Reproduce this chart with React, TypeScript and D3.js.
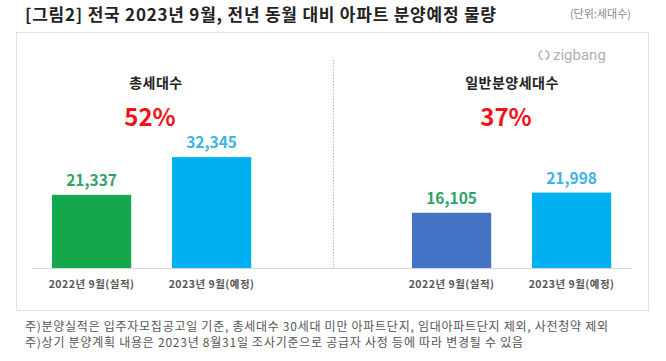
import { useEffect, useRef } from 'react';
import * as d3 from 'd3';

// Chart data
const periods = ['2022년 9월(실적)', '2023년 9월(예정)'];
const totalUnits = [21337, 32345];
const generalUnits = [16105, 21998];
const panelTitles = ['총세대수', '일반분양세대수'];
const changeLabels = ['52%', '37%'];
const footnotes = [
  '주)분양실적은 입주자모집공고일 기준, 총세대수 30세대 미만 아파트단지, 임대아파트단지 제외, 사전청약 제외',
  '주)상기 분양계획 내용은 2023년 8월31일 조사기준으로 공급자 사정 등에 따라 변경될 수 있음',
];

const FONT = '"Noto Sans CJK KR", "Noto Sans", sans-serif';

const App = () => {
  const chartRef = useRef<SVGSVGElement>(null);

  useEffect(() => {
    if (!chartRef.current) return;

    // Clear any existing chart
    d3.select(chartRef.current).selectAll('*').remove();

    const width = 666;
    const height = 361;
    const baseline = 268;

    const svg = d3
      .select(chartRef.current)
      .attr('width', width)
      .attr('height', height)
      .style('font-family', FONT);

    svg.append('rect').attr('width', width).attr('height', height).attr('fill', '#fff');

    // Title + unit
    svg
      .append('text')
      .attr('x', 25)
      .attr('y', 21)
      .attr('font-size', 17)
      .attr('font-weight', 700)
      .attr('fill', '#222')
      .attr('textLength', 471)
      .attr('lengthAdjust', 'spacing')
      .text('[그림2] 전국 2023년 9월, 전년 동월 대비 아파트 분양예정 물량');

    svg
      .append('text')
      .attr('x', 631)
      .attr('y', 18)
      .attr('text-anchor', 'end')
      .attr('font-size', 11)
      .attr('fill', '#888')
      .text('(단위:세대수)');

    // Panel box
    svg
      .append('rect')
      .attr('x', 16.5)
      .attr('y', 32.5)
      .attr('width', 632)
      .attr('height', 278)
      .attr('fill', '#fff')
      .attr('stroke', '#e2e2e2');

    // zigbang mark
    const logo = svg.append('g').attr('transform', 'translate(544,55)');
    logo
      .append('path')
      .attr('d', d3.arc()({ innerRadius: 4, outerRadius: 5.6, startAngle: 0.3, endAngle: 2.8 }) as string)
      .attr('fill', '#b5b5b5');
    logo
      .append('path')
      .attr('d', d3.arc()({ innerRadius: 4, outerRadius: 5.6, startAngle: 3.4, endAngle: 5.9 }) as string)
      .attr('fill', '#b5b5b5');
    logo
      .append('text')
      .attr('x', 9)
      .attr('y', 5)
      .attr('font-size', 15)
      .attr('fill', '#b0b0b0')
      .attr('font-family', 'Roboto, sans-serif')
      .text('zigbang');

    // Shared value scale
    const y = d3.scaleLinear().domain([0, 35000]).range([baseline, baseline - 120]);

    const panels = [
      {
        values: totalUnits,
        range: [31.6, 271.6],
        colors: ['#12a84b', '#00b0f0'],
        labelColors: ['#2fa366', '#3cb4e4'],
        axis: [32, 333],
        cx: 156,
      },
      {
        values: generalUnits,
        range: [391.6, 631.6],
        colors: ['#4472c4', '#00b0f0'],
        labelColors: ['#2fa366', '#3cb4e4'],
        axis: [333, 632],
        cx: 512,
      },
    ];

    panels.forEach((p, i) => {
      const x = d3
        .scaleBand<string>()
        .domain(periods)
        .range(p.range as [number, number])
        .paddingInner(0.34)
        .paddingOuter(0.17);

      const g = svg.append('g');

      // Baseline
      g.append('line')
        .attr('x1', p.axis[0])
        .attr('x2', p.axis[1])
        .attr('y1', baseline + 0.5)
        .attr('y2', baseline + 0.5)
        .attr('stroke', '#d6d6d6');

      // Bars
      g.selectAll('rect.bar')
        .data(p.values)
        .join('rect')
        .attr('class', 'bar')
        .attr('x', (_, j) => x(periods[j]) as number)
        .attr('width', x.bandwidth())
        .attr('y', (d) => y(d))
        .attr('height', (d) => baseline - y(d))
        .attr('fill', (_, j) => p.colors[j]);

      // Value labels
      g.selectAll('text.value')
        .data(p.values)
        .join('text')
        .attr('class', 'value')
        .attr('x', (_, j) => (x(periods[j]) as number) + x.bandwidth() / 2)
        .attr('y', (d) => y(d) - 9)
        .attr('text-anchor', 'middle')
        .attr('font-size', 15.5)
        .attr('font-weight', 700)
        .attr('fill', (_, j) => p.labelColors[j])
        .text((d) => d3.format(',')(d));

      // Category labels
      g.selectAll('text.cat')
        .data(periods)
        .join('text')
        .attr('class', 'cat')
        .attr('x', (d) => (x(d) as number) + x.bandwidth() / 2)
        .attr('y', 288)
        .attr('text-anchor', 'middle')
        .attr('font-size', 10.5)
        .attr('font-weight', 700)
        .attr('fill', '#555')
        .attr('letter-spacing', 0.5)
        .text((d) => d);

      // Panel title and change
      g.append('text')
        .attr('x', p.cx)
        .attr('y', 88)
        .attr('text-anchor', 'middle')
        .attr('font-size', 14)
        .attr('font-weight', 700)
        .attr('fill', '#222')
        .attr('letter-spacing', 0.5)
        .text(panelTitles[i]);

      g.append('text')
        .attr('x', p.cx - 6)
        .attr('y', 126)
        .attr('text-anchor', 'middle')
        .attr('font-size', 24)
        .attr('font-weight', 700)
        .attr('fill', '#f01418')
        .text(changeLabels[i]);
    });

    // Dotted divider
    svg
      .append('line')
      .attr('x1', 333.5)
      .attr('x2', 333.5)
      .attr('y1', 60)
      .attr('y2', baseline)
      .attr('stroke', '#bdbdbd')
      .attr('stroke-dasharray', '1.5,1.5');

    // Footnotes
    const noteLengths = [583, 498];
    svg
      .selectAll('text.note')
      .data(footnotes)
      .join('text')
      .attr('class', 'note')
      .attr('x', 25)
      .attr('y', (_, i) => 331 + i * 16)
      .attr('font-size', 12)
      .attr('fill', '#555')
      .attr('textLength', (_, i) => noteLengths[i])
      .attr('lengthAdjust', 'spacing')
      .text((d) => d);
  }, []);

  return <svg ref={chartRef} style={{ position: 'absolute', left: 0, top: 0 }} />;
};

export default App;
